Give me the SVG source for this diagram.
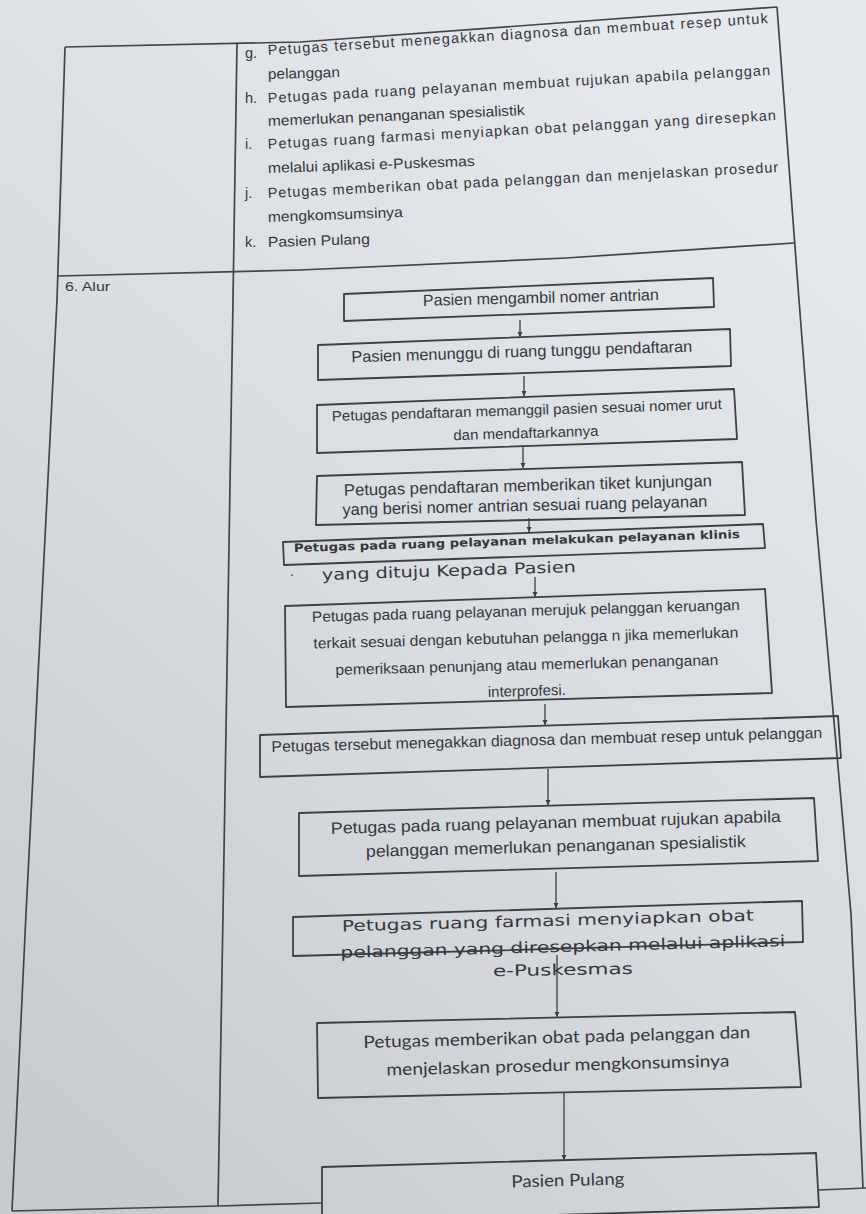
<svg xmlns="http://www.w3.org/2000/svg" width="866" height="1214" viewBox="0 0 866 1214">
<defs>
<linearGradient id="bg" x1="0.7" y1="0" x2="0.1" y2="1">
<stop offset="0" stop-color="#e5e8ec"/>
<stop offset="0.5" stop-color="#d8dbe0"/>
<stop offset="1" stop-color="#c6cacf"/>
</linearGradient>
<marker id="ah" markerUnits="userSpaceOnUse" markerWidth="6" markerHeight="7" refX="5" refY="3" orient="auto">
<path d="M0,0.5 L5,3 L0,5.5 z" fill="#3a3d42"/>
</marker>
<style>
.ln{fill:none;stroke:#414449;stroke-width:1.7;stroke-linejoin:round}
.bx{fill:none;stroke:#3c3f44;stroke-width:1.8;stroke-linejoin:round}
.ar{fill:none;stroke:#3a3d42;stroke-width:1.3}
.t{font-family:"Liberation Sans",Arial,sans-serif;fill:#35383d}
.v{font-family:"DejaVu Sans",Verdana,sans-serif;fill:#35383d}
.c{font-family:Lato,"Open Sans",sans-serif;fill:#35383d}
.m{text-anchor:middle}
</style>
</defs>
<rect x="0" y="0" width="866" height="1214" fill="url(#bg)"/>

<g id="table">
<polyline class="ln" points="65,47 300,42 777,7"/>
<polyline class="ln" points="65,47 57,300 26,914 12,1211"/>
<polyline class="ln" points="237,43 233,300 223,914 218,1206"/>
<polyline class="ln" points="777,7 799,300 816,520 841,800 851,914 863,1188"/>
<polyline class="ln" points="58,276 300,270 566,258 794,243"/>
<polyline class="ln" points="12,1211 218,1206 322,1203"/>
<line class="ln" x1="819" y1="1190" x2="866" y2="1188"/>
</g>

<g id="list">
<text class="t" x="65" y="291" font-size="13" textLength="45" lengthAdjust="spacingAndGlyphs">6. Alur</text>
<g font-size="14.5">
<text class="t" x="245" y="58">g.</text>
<text class="t" x="268" y="55" transform="rotate(-3.65 268 55)" textLength="501" lengthAdjust="spacing">Petugas tersebut menegakkan diagnosa dan membuat resep untuk</text>
<text class="t" x="268" y="79" transform="rotate(-1.5 268 79)" textLength="72" lengthAdjust="spacingAndGlyphs">pelanggan</text>
<text class="t" x="245" y="103">h.</text>
<text class="t" x="268" y="103" transform="rotate(-3.19 268 103)" textLength="503" lengthAdjust="spacing">Petugas pada ruang pelayanan membuat rujukan apabila pelanggan</text>
<text class="t" x="268" y="126" transform="rotate(-2.45 268 126)" textLength="257" lengthAdjust="spacingAndGlyphs">memerlukan penanganan spesialistik</text>
<text class="t" x="245" y="149">i.</text>
<text class="t" x="268" y="149" transform="rotate(-3.26 268 149)" textLength="509" lengthAdjust="spacing">Petugas ruang farmasi menyiapkan obat pelanggan yang diresepkan</text>
<text class="t" x="268" y="173" transform="rotate(-1.94 268 173)" textLength="207" lengthAdjust="spacingAndGlyphs">melalui aplikasi e-Puskesmas</text>
<text class="t" x="245" y="198">j.</text>
<text class="t" x="268" y="198" transform="rotate(-2.91 268 198)" textLength="511" lengthAdjust="spacing">Petugas memberikan obat pada pelanggan dan menjelaskan prosedur</text>
<text class="t" x="268" y="222" transform="rotate(-2.1 268 222)" textLength="135" lengthAdjust="spacingAndGlyphs">mengkomsumsinya</text>
<text class="t" x="245" y="247">k.</text>
<text class="t" x="268" y="247" transform="rotate(-1.7 268 247)" textLength="102" lengthAdjust="spacingAndGlyphs">Pasien Pulang</text>
</g>
</g>

<g id="connectors">
<line class="ar" x1="520" y1="320" x2="520" y2="337" marker-end="url(#ah)"/>
<line class="ar" x1="524" y1="376" x2="524" y2="396" marker-end="url(#ah)"/>
<line class="ar" x1="523" y1="447" x2="523" y2="468" marker-end="url(#ah)"/>
<line class="ar" x1="529" y1="518" x2="529" y2="532" marker-end="url(#ah)"/>
<line class="ar" x1="535" y1="577" x2="535" y2="597" marker-end="url(#ah)"/>
<line class="ar" x1="545" y1="704" x2="545" y2="725" marker-end="url(#ah)"/>
<line class="ar" x1="548" y1="769" x2="548" y2="805" marker-end="url(#ah)"/>
<line class="ar" x1="556" y1="872" x2="556" y2="908" marker-end="url(#ah)"/>
<line class="ar" x1="557" y1="955" x2="557" y2="1017" marker-end="url(#ah)"/>
<line class="ar" x1="564" y1="1093" x2="564" y2="1160" marker-end="url(#ah)"/>
</g>

<g id="n1">
<polygon class="bx" points="344,294 713,278 714,307 344,321"/>
<text class="t m" x="541" y="303" font-size="16" transform="rotate(-1.4 541 303)" textLength="236" lengthAdjust="spacingAndGlyphs">Pasien mengambil nomer antrian</text>
</g>
<g id="n2">
<polygon class="bx" points="318,345 730,329 731,366 318,380"/>
<text class="t m" x="522" y="357" font-size="16" transform="rotate(-1.8 522 357)" textLength="341" lengthAdjust="spacingAndGlyphs">Pasien menunggu di ruang tunggu pendaftaran</text>
</g>
<g id="n3">
<polygon class="bx" points="317,405 734,389 737,439 317,453"/>
<text class="t m" x="527" y="415" font-size="14.5" transform="rotate(-1.8 527 415)" textLength="390" lengthAdjust="spacingAndGlyphs">Petugas pendaftaran memanggil pasien sesuai nomer urut</text>
<text class="t m" x="526" y="438" font-size="14.5" transform="rotate(-1.8 526 438)" textLength="145" lengthAdjust="spacingAndGlyphs">dan mendaftarkannya</text>
</g>
<g id="n4">
<polygon class="bx" points="317,476 742,462 745,515 316,525"/>
<text class="t m" x="528" y="491" font-size="16.5" transform="rotate(-1.5 528 491)" textLength="368" lengthAdjust="spacingAndGlyphs">Petugas pendaftaran memberikan tiket kunjungan</text>
<text class="t m" x="525" y="511" font-size="16.5" transform="rotate(-1.3 525 511)" textLength="365" lengthAdjust="spacingAndGlyphs">yang berisi nomer antrian sesuai ruang pelayanan</text>
</g>
<g id="n5">
<polygon class="bx" points="283,542 763,524 765,548 284,565"/>
<text class="v m" x="517" y="545" font-size="11.5" font-weight="bold" transform="rotate(-1.8 517 545)" textLength="446" lengthAdjust="spacingAndGlyphs">Petugas pada ruang pelayanan melakukan pelayanan klinis</text>
<text class="v" x="290" y="580" font-size="13">·</text>
<text class="v m" x="449" y="576" font-size="15.5" transform="rotate(-1.8 449 576)" textLength="254" lengthAdjust="spacingAndGlyphs">yang dituju Kepada Pasien</text>
</g>
<g id="n6">
<polygon class="bx" points="285,606 765,589 772,693 286,707"/>
<text class="t m" x="526" y="616" font-size="15" transform="rotate(-1.6 526 616)" textLength="428" lengthAdjust="spacingAndGlyphs">Petugas pada ruang pelayanan merujuk pelanggan keruangan</text>
<text class="t m" x="526" y="643" font-size="15" transform="rotate(-1.5 526 643)" textLength="425" lengthAdjust="spacingAndGlyphs">terkait sesuai dengan kebutuhan pelangga n jika memerlukan</text>
<text class="t m" x="527" y="670" font-size="15" transform="rotate(-1.5 527 670)" textLength="383" lengthAdjust="spacingAndGlyphs">pemeriksaan penunjang atau memerlukan penanganan</text>
<text class="t m" x="527" y="696" font-size="15" transform="rotate(-1.5 527 696)" textLength="78" lengthAdjust="spacingAndGlyphs">interprofesi.</text>
</g>
<g id="n7">
<polygon class="bx" points="260,735 838,716 841,758 260,777"/>
<text class="t m" x="547" y="745" font-size="15.5" transform="rotate(-1.46 547 745)" textLength="551" lengthAdjust="spacingAndGlyphs">Petugas tersebut menegakkan diagnosa dan membuat resep untuk pelanggan</text>
</g>
<g id="n8">
<polygon class="bx" points="299,813 814,798 818,861 299,876"/>
<text class="t m" x="556" y="828" font-size="16.5" transform="rotate(-1.5 556 828)" textLength="450" lengthAdjust="spacingAndGlyphs">Petugas pada ruang pelayanan membuat rujukan apabila</text>
<text class="t m" x="556" y="852" font-size="16.5" transform="rotate(-1.5 556 852)" textLength="380" lengthAdjust="spacingAndGlyphs">pelanggan memerlukan penanganan spesialistik</text>
</g>
<g id="n9">
<polygon class="bx" points="293,917 802,901 803,942 293,956"/>
<text class="v m" x="548" y="926" font-size="15.5" transform="rotate(-1.5 548 926)" textLength="412" lengthAdjust="spacingAndGlyphs">Petugas ruang farmasi menyiapkan obat</text>
<text class="v m" x="563" y="952" font-size="15.5" transform="rotate(-1.5 563 952)" textLength="445" lengthAdjust="spacingAndGlyphs">pelanggan yang diresepkan melalui aplikasi</text>
<text class="v m" x="563" y="975" font-size="15.5" transform="rotate(-1 563 975)" textLength="140" lengthAdjust="spacingAndGlyphs">e-Puskesmas</text>
</g>
<g id="n10">
<polygon class="bx" points="317,1023 795,1012 801,1087 318,1098"/>
<text class="c m" x="557" y="1043" font-size="17" transform="rotate(-1.5 557 1043)" textLength="387" lengthAdjust="spacingAndGlyphs">Petugas memberikan obat pada pelanggan dan</text>
<text class="c m" x="558" y="1071" font-size="17" transform="rotate(-1.5 558 1071)" textLength="343" lengthAdjust="spacingAndGlyphs">menjelaskan prosedur mengkonsumsinya</text>
</g>
<g id="n11">
<polygon class="bx" points="322,1167 816,1153 819,1207 322,1222"/>
<text class="c m" x="568" y="1186" font-size="17" transform="rotate(-1.5 568 1186)" textLength="113" lengthAdjust="spacingAndGlyphs">Pasien Pulang</text>
</g>
</svg>
